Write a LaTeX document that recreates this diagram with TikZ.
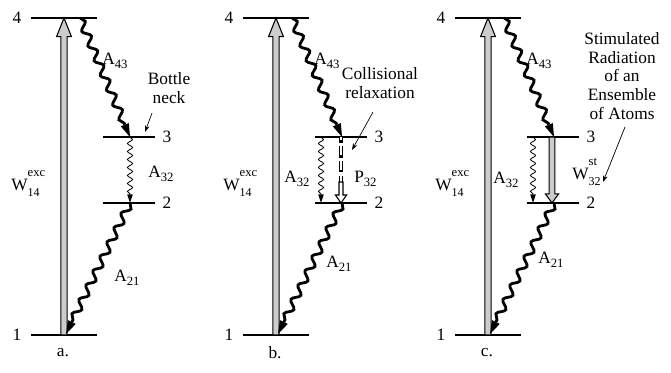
\documentclass[tikz,border=0pt]{standalone}
\usepackage{fontspec}
\setmainfont{Liberation Serif}
\usetikzlibrary{arrows.meta, positioning, calc, decorations.pathmorphing}
\newcommand{\lsub}[2]{#1\raisebox{-2.6pt}{\fontsize{9.5}{10}\selectfont #2}}
\newcommand{\lsupsub}[3]{#1\makebox[0pt][l]{\raisebox{-4pt}{\fontsize{9}{10}\selectfont #3}}%
  \raisebox{11pt}{\fontsize{9.5}{10}\selectfont #2}}

\begin{document}
\begin{tikzpicture}[
  x=0.75pt, y=-0.75pt, font=\fontsize{13}{14}\selectfont,
  level/.style={line width=1.1pt},
  num/.style={inner sep=0pt},
  lab/.style={inner sep=0pt, anchor=base west},
  txt/.style={align=center, inner sep=0pt},
  decay/.style={line width=2.1pt, decorate,
    decoration={snake, amplitude=2.7pt, segment length=12pt, post length=11pt},
    -{Triangle[length=10pt, width=6.5pt, line width=0pt]}},
  spont/.style={line width=0.6pt, decorate,
    decoration={snake, amplitude=1.9pt, segment length=6pt, post length=6pt},
    -{Triangle[length=6.5pt, width=4.2pt, line width=0pt]}},
  hollow/.style n args={3}{draw, line width=0.8pt,
    to path={let \p1=(\tikztostart), \p2=(\tikztotarget),
      \n1={ifthenelse(\y2>\y1,1,-1)}, \n2={\y2-\n1*#3} in
      ({\x1-#1},\y1) -- ({\x1-#1},\n2) -- ({\x1-#2},\n2) -- (\x2,\y2)
      -- ({\x1+#2},\n2) -- ({\x1+#1},\n2) -- ({\x1+#1},\y1) -- cycle}},
  pump/.style={hollow={2.4pt}{5.6pt}{14pt}, fill=black!20},
  stim/.style={hollow={2.2pt}{4.9pt}{6.8pt}, fill=black!20},
  collshaft/.style={line width=3.6pt, dash pattern=on 8.5pt off 2.5pt, dash phase=4pt,
    postaction={draw=white, line width=2pt, dash pattern=on 7.1pt off 3.9pt, dash phase=4.7pt}},
  collhead/.style={hollow={1.5pt}{4.2pt}{6pt}, fill=white},
  note/.style={line width=0.5pt, -{Stealth[length=5pt, width=3.5pt]}}
]
\useasboundingbox (0,0) rectangle (671,373);

% common part of the three schemes
\foreach \sch/\dx/\ay in {a/0/282, b/212/268, c/424/264}{
\begin{scope}[shift={(\dx,0)}]
  \coordinate (\sch4w) at (31,18);   \coordinate (\sch4e) at (97,18);
  \coordinate (\sch1w) at (31,335);  \coordinate (\sch1e) at (97,335);
  \coordinate (\sch3w) at (103,137); \coordinate (\sch3e) at (155,137);
  \coordinate (\sch2w) at (103,203); \coordinate (\sch2e) at (155,203);
  \draw[level] (\sch4w) -- (\sch4e);
  \draw[level] (\sch1w) -- (\sch1e);
  \draw[level] (\sch3w) -- (\sch3e);
  \draw[level] (\sch2w) -- (\sch2e);
  \node[num, left=7pt of \sch4w] (\sch4n) {4};
  \node[num, left=7pt of \sch1w] (\sch1n) {1};
  \node[num, right=5.5pt of \sch3e] (\sch3n) {3};
  \node[num, right=5.5pt of \sch2e] (\sch2n) {2};

  \coordinate (\sch-up1) at (64,335); \coordinate (\sch-up4) at (64,18);
  \coordinate (\sch-A4) at (80,18);   \coordinate (\sch-A3) at (130,137);
  \coordinate (\sch-A2) at (130,203); \coordinate (\sch-A1) at (66,334);
  \draw[pump] (\sch-up1) to (\sch-up4);
  \draw[decay] (\sch-A4) -- (\sch-A3);
  \draw[decay] (\sch-A2) -- (\sch-A1);

  \node[lab] (\sch-W) at (11,191) {\lsupsub{W}{exc}{14}};
  \node[lab] (\sch-A43) at (102,65) {\lsub{A}{43}};
  \node[lab] (\sch-A21) at (114,\ay) {\lsub{A}{21}};
  \node (\sch-cap) at (63,353) {\sch.};
\end{scope}
}

% a. bottle neck
\draw[spont] (a-A3) -- (a-A2);
\node[lab] (a-A32) at (148,178) {\lsub{A}{32}};
\node[txt] (neck) at (169,88) {Bottle\\neck};
\coordinate (neck-s) at (152,113); \coordinate (neck-t) at (145,132);
\draw[note] (neck-s) -- (neck-t);

% b. collisional relaxation
\coordinate (b-S3) at (321,137); \coordinate (b-S2) at (321,203);
\coordinate (b-P3) at (341,137); \coordinate (b-Pm) at (341,182); \coordinate (b-P2) at (341,203);
\draw[spont] (b-S3) -- (b-S2);
\draw[collshaft] (b-P3) -- (b-Pm);
\draw[collhead] (b-Pm) to (b-P2);
\node[lab] (b-A32) at (284,183) {\lsub{A}{32}};
\node[lab] (b-P32) at (354,183) {\lsub{P}{32}};
\node[txt] (coll) at (380,83) {Collisional\\relaxation};
\coordinate (coll-s) at (373,112); \coordinate (coll-t) at (352,150);
\draw[note] (coll-s) -- (coll-t);

% c. stimulated emission
\coordinate (c-S3) at (533,137); \coordinate (c-S2) at (533,203);
\coordinate (c-P3) at (552,137); \coordinate (c-P2) at (552,203);
\draw[spont] (c-S3) -- (c-S2);
\draw[stim] (c-P3) to (c-P2);
\node[lab] (c-A32) at (493,184) {\lsub{A}{32}};
\node[lab] (c-W32) at (572,180) {\lsupsub{W}{st}{32}};
\node[txt] (ens) at (622,76) {Stimulated\\Radiation\\of an\\Ensemble\\of Atoms};
\coordinate (ens-s) at (625,127); \coordinate (ens-t) at (603,182);
\draw[note] (ens-s) -- (ens-t);
\end{tikzpicture}
\end{document}
